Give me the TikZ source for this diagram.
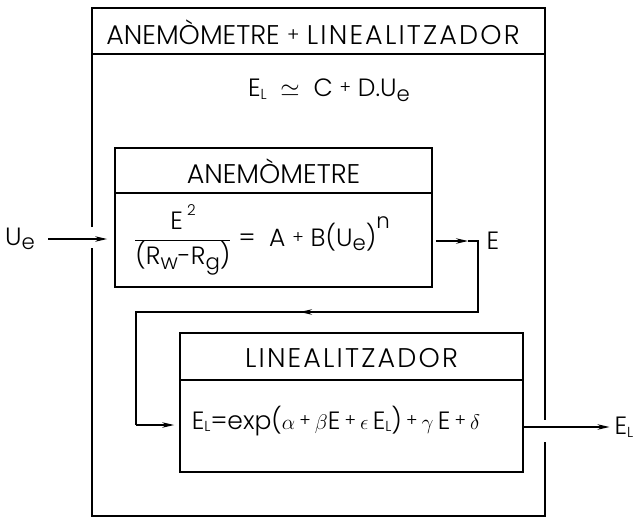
\documentclass[tikz,border=0pt]{standalone}
\usepackage{fontspec}
\usepackage{graphicx}
\setmainfont{Poppins Light}
\newfontfamily\widefont{Poppins Light}[LetterSpace=8]
\usetikzlibrary{arrows.meta}
\newcommand\lsub[1]{\raisebox{-0.1em}{\scalebox{0.58}{#1}}}
\newcommand\dsub[1]{\raisebox{-0.18em}{\scalebox{0.85}{#1}}}
\newcommand\pl{\raisebox{0.12em}{\scalebox{0.7}{+}}}
\newcommand\gk[1]{\scalebox{0.85}{$#1$}}
\begin{document}
\begin{tikzpicture}[x=1pt,y=-1pt,
  outerline/.style={line width=2.4pt},
  box/.style={draw,line width=1.8pt,inner sep=0pt},
  conn/.style={line width=1.2pt},
  tip/.style={-{Stealth[length=12pt,width=5.5pt]}},
  lab/.style={inner sep=0pt,font=\fontsize{25}{29}\selectfont},
  ttl/.style={inner sep=0pt,font=\fontsize{27}{32}\selectfont},
]
\useasboundingbox (0,0) rectangle (636,519);
% outer box
\coordinate (o1) at (92,8);
\coordinate (o2) at (545,8);
\coordinate (o3) at (545,516);
\coordinate (o4) at (92,516);
\coordinate (gl1) at (92,227);
\coordinate (gl2) at (92,248);
\coordinate (gr1) at (545,420);
\coordinate (gr2) at (545,442);
\draw[outerline] (gl1) -- (o1) -- (o2) -- (gr1);
\draw[outerline] (gr2) -- (o3) -- (o4) -- (gl2);
\coordinate (d0a) at (92,54);
\coordinate (d0b) at (545,54);
\draw[line width=2pt] (d0a) -- (d0b);
\node[ttl] (t0) at (313,32) {ANEMÒMETRE \pl\ {\widefont LINEALITZADOR}};
\node[lab] (eq0) at (329,90) {E\lsub{L} \ $\simeq$ \ C \pl\ D.U\dsub{e}};
% anemometre
\node[box,minimum width=317pt,minimum height=139pt] (anem) at (273.5,217.5) {};
\coordinate (d1) at (0,193);
\draw[line width=1.8pt] (anem.west |- d1) -- (anem.east |- d1);
\node[ttl] (t1) at (273.5,171) {ANEMÒMETRE};
\node[lab] (f1) at (262,240) {$\displaystyle\frac{\hbox{E\,\raisebox{0.55em}{\scalebox{0.6}{2}}}}{\hbox{(R\dsub{w}-R\dsub{g})}}$ = \ A \pl\ B(U\dsub{e})\raisebox{0.72em}{\scalebox{0.85}{n}}};
% linealitzador
\node[box,minimum width=343pt,minimum height=139pt] (lin) at (351.5,402.5) {};
\coordinate (d2) at (0,380);
\draw[line width=1.8pt] (lin.west |- d2) -- (lin.east |- d2);
\node[ttl] (t2) at (351.5,358) {\widefont LINEALITZADOR};
\node[lab] (f2) at (336,421) {E\lsub{L}=exp(\gk{\alpha}\,\pl\,\gk{\beta}E\,\pl\,\gk{\epsilon}\,E\lsub{L})\,\pl\,\gk{\gamma}\,E\,\pl\,\gk{\delta}};
% input
\node[lab] (ue) at (20,239) {U\dsub{e}};
\draw[conn,tip,shorten <=13pt,shorten >=7pt] (ue.east) -- (ue.east -| anem.west);
% E output and feedback
\coordinate (c1) at (478,241);
\coordinate (c1a) at (468,241);
\coordinate (c2) at (478,312);
\coordinate (m1) at (300,312);
\coordinate (c3) at (136,312);
\coordinate (c4) at (136,425);
\node[lab] (elab) at (493,241) {E};
\draw[conn,tip,shorten <=3pt] (anem.east |- c1) -- (c1a);
\draw[conn] (c1a) -- (c1) -- (c2) -- (m1);
\draw[conn,tip] (c2) -- (m1);
\draw[conn] (m1) -- (c3) -- (c4);
\draw[conn,tip,shorten >=5pt] (c4) -- (c4 -| lin.west);
% output
\node[lab] (elout) at (624,427) {E\lsub{L}};
\draw[conn,tip,shorten >=5pt] (lin.east |- elout) -- (elout.west);
\end{tikzpicture}
\end{document}
